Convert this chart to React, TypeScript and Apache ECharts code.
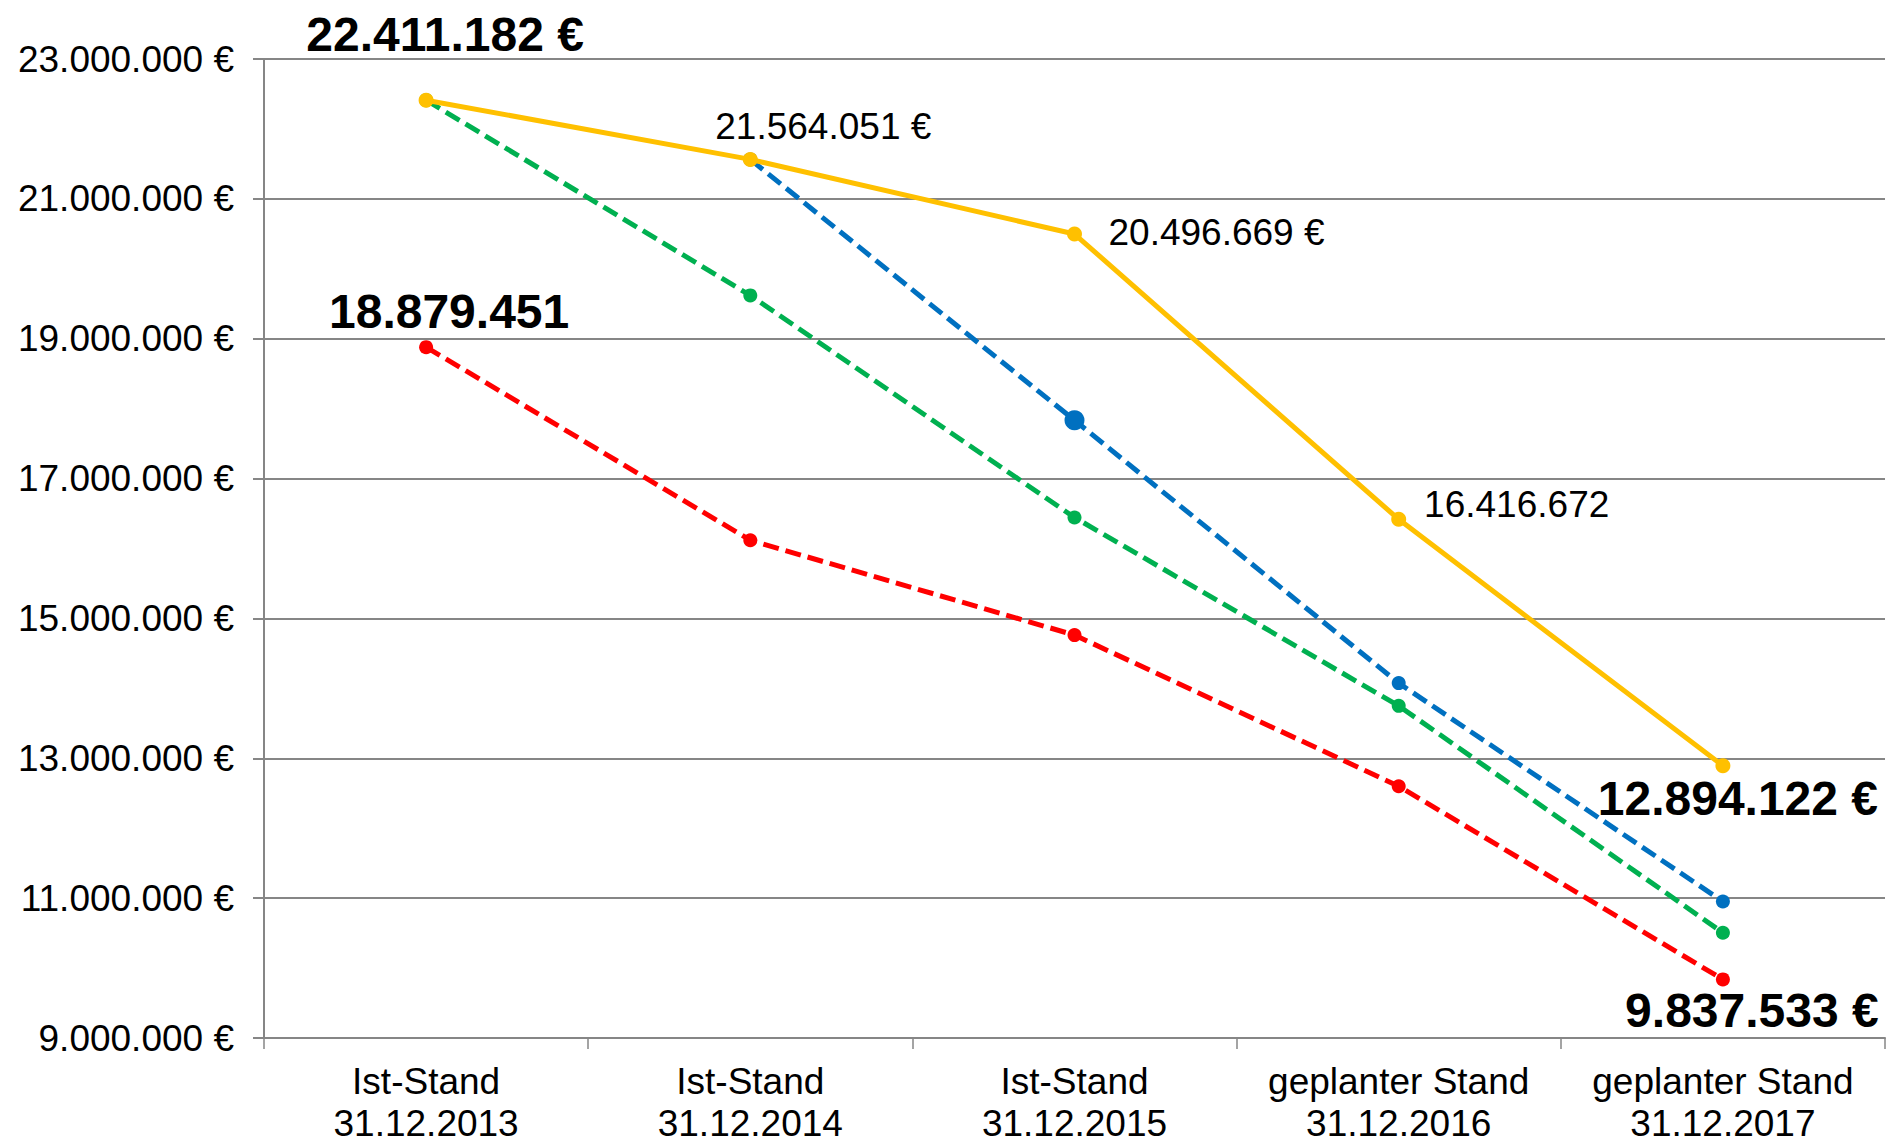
import React, { useEffect, useRef } from 'react';
import * as echarts from 'echarts';

const categories = [
  'Ist-Stand\n31.12.2013',
  'Ist-Stand\n31.12.2014',
  'Ist-Stand\n31.12.2015',
  'geplanter Stand\n31.12.2016',
  'geplanter Stand\n31.12.2017',
];
const orangeValues = [22411182, 21564051, 20496669, 16416672, 12894122];
const blueValues: (number | string)[] = ['-', 21564051, 17834000, 14075000, 10952000];
const greenValues = [22411182, 19619000, 16444000, 13750000, 10505000];
const redValues = [18879451, 16118000, 14762000, 12600000, 9837533];
const yTickValues = [9000000, 11000000, 13000000, 15000000, 17000000, 19000000, 21000000, 23000000];

// which points carry a value label: [index, with euro sign, bold]
const orangeLabels: [number, boolean, boolean][] = [
  [0, true, true],
  [1, true, false],
  [2, true, false],
  [3, false, false],
  [4, true, true],
];
const redLabels: [number, boolean, boolean][] = [
  [0, false, true],
  [4, true, true],
];

// label style offsets (style, not data)
const orangeOffsets: Record<number, [number, number]> = {
  0: [19, -66],
  1: [73, -33],
  2: [142, -2],
  3: [118, -15],
  4: [15, 33],
};
const redOffsets: Record<number, [number, number]> = {
  0: [23, -36],
  4: [29, 31],
};

const FONT = 'Liberation Sans, Arial, sans-serif';
const GRAY = '#868686';

function fmt(v: number): string {
  return String(Math.round(v)).replace(/\B(?=(\d{3})+(?!\d))/g, '.');
}

function buildData(values: (number | string)[], labels: [number, boolean, boolean][], offsets: Record<number, [number, number]>) {
  return values.map((v, i) => {
    const l = labels.find((x) => x[0] === i);
    if (!l || typeof v !== 'number') return v;
    const [, euro, bold] = l;
    return {
      value: v,
      label: {
        show: true,
        position: 'inside',
        align: 'center',
        verticalAlign: 'middle',
        offset: offsets[i],
        formatter: fmt(v) + (euro ? ' €' : ''),
        fontFamily: FONT,
        fontSize: bold ? 48 : 37,
        fontWeight: bold ? 'bold' : 'normal',
        color: '#000',
      },
    };
  });
}

export default function App() {
  const ref = useRef<HTMLDivElement>(null);
  useEffect(() => {
    if (!ref.current) return;
    const chart = echarts.init(ref.current, null, { renderer: 'svg' });
    const dashed = [16, 7];
    chart.setOption({
      animation: false,
      backgroundColor: '#fff',
      grid: { left: 264, right: 3, top: 59, bottom: 103, containLabel: false },
      xAxis: {
        type: 'category',
        data: categories,
        boundaryGap: true,
        axisLine: { show: true, lineStyle: { color: GRAY, width: 2 } },
        axisTick: { show: true, length: 11, lineStyle: { color: GRAY, width: 1.5 } },
        axisLabel: {
          interval: 0,
          fontFamily: FONT,
          fontSize: 37,
          color: '#000',
          lineHeight: 42,
          margin: 22,
        },
        splitLine: { show: false },
      },
      yAxis: {
        type: 'value',
        min: 9000000,
        max: 23000000,
        axisLine: { show: true, lineStyle: { color: GRAY, width: 2 } },
        axisTick: { show: true, length: 11, customValues: yTickValues, lineStyle: { color: GRAY, width: 2 } },
        axisLabel: {
          customValues: yTickValues,
          formatter: (v: number) => fmt(v) + ' €',
          fontFamily: FONT,
          fontSize: 37,
          color: '#000',
          margin: 30,
        },
        splitLine: { show: true, lineStyle: { color: GRAY, width: 2 } },
      },
      series: [
        {
          type: 'line',
          name: 'rot',
          data: buildData(redValues, redLabels, redOffsets),
          symbol: 'circle',
          symbolSize: 14,
          itemStyle: { color: '#FF0000' },
          lineStyle: { color: '#FF0000', width: 5, type: dashed },
          z: 2,
        },
        {
          type: 'line',
          name: 'grün',
          data: greenValues,
          symbol: 'circle',
          symbolSize: 14,
          itemStyle: { color: '#00B050' },
          lineStyle: { color: '#00B050', width: 5, type: dashed },
          z: 3,
        },
        {
          type: 'line',
          name: 'blau',
          data: blueValues.map((v, i) => (i === 2 ? { value: v, symbolSize: 20 } : v)),
          symbol: 'circle',
          symbolSize: 14,
          itemStyle: { color: '#0070C0' },
          lineStyle: { color: '#0070C0', width: 5, type: dashed },
          z: 4,
        },
        {
          type: 'line',
          name: 'gelb',
          data: buildData(orangeValues, orangeLabels, orangeOffsets),
          symbol: 'circle',
          symbolSize: 15,
          itemStyle: { color: '#FFC000' },
          lineStyle: { color: '#FFC000', width: 5 },
          z: 5,
        },
      ],
    });
    return () => chart.dispose();
  }, []);
  return <div ref={ref} style={{ position: 'fixed', left: 0, top: 0, width: 1888, height: 1144 }} />;
}
